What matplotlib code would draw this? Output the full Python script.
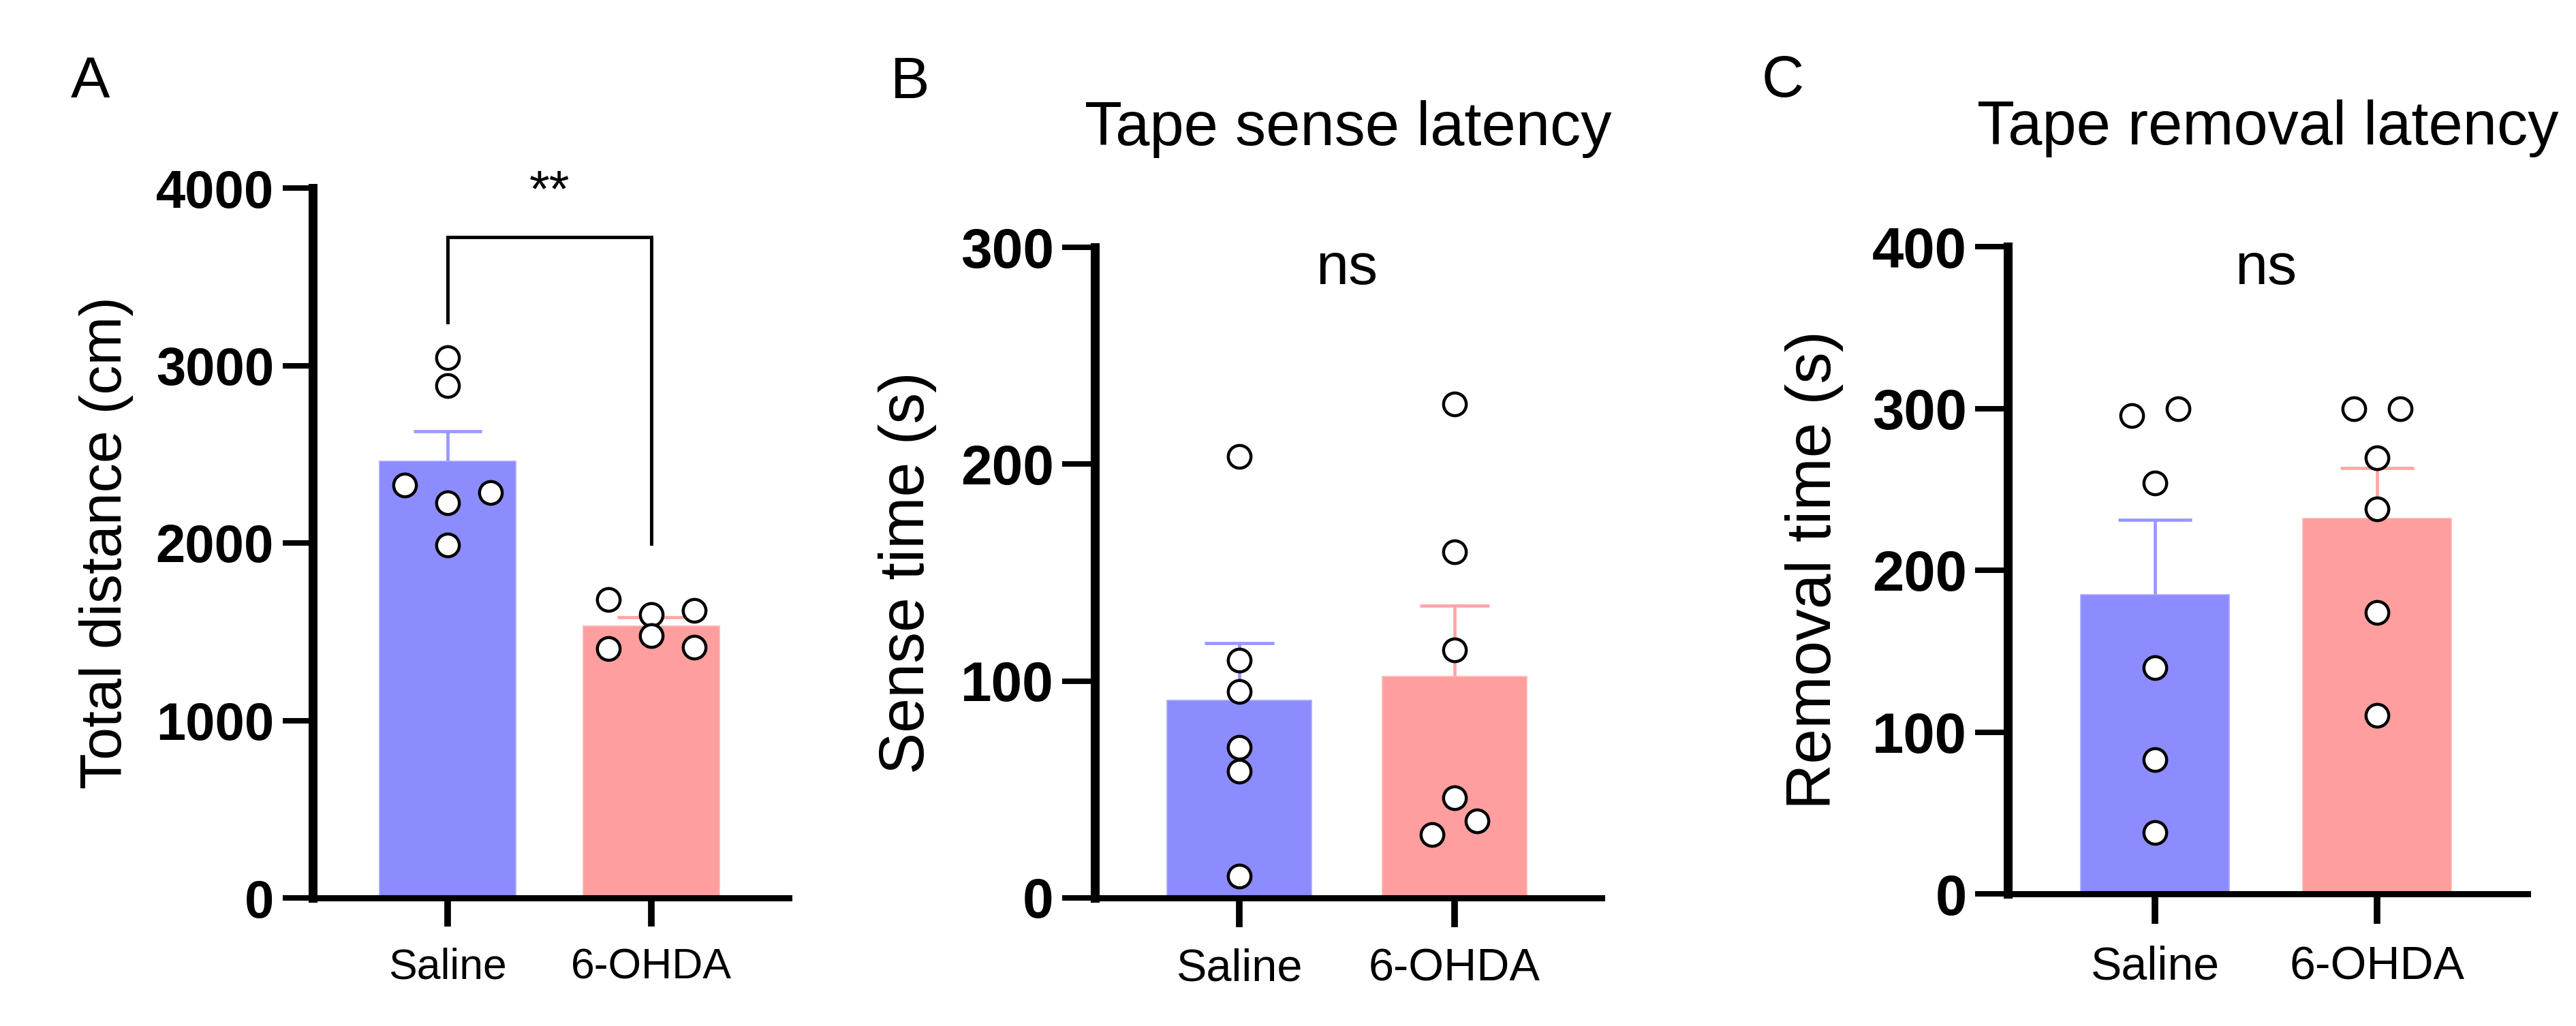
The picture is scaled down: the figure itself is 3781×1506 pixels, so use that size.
import matplotlib
matplotlib.use('Agg')
import matplotlib.pyplot as plt
import numpy as np

plt.rcParams['font.family'] = ['Liberation Sans', 'DejaVu Sans']

# ---------------- data ----------------
groups = ['Saline', '6-OHDA']

# Panel A: total distance (cm)
a_saline = [3044, 2887, 2326, 2284, 2227, 1989]
a_ohda = [1681, 1620, 1597, 1478, 1413, 1405]
a_yticks = [0, 1000, 2000, 3000, 4000]
a_ylabel = 'Total distance (cm)'
a_sig = '**'
a_bracket_y = [3244, 3724, 3724, 1996]

# Panel B: tape sense latency (s)
b_saline = [203.5, 109.5, 95.3, 69.5, 58.4, 10.0]
b_ohda = [227.7, 159.7, 114.3, 46.3, 35.4, 29.3]
b_yticks = [0, 100, 200, 300]
b_ylabel = 'Sense time (s)'
b_title = 'Tape sense latency'
b_sig = 'ns'

# Panel C: tape removal latency (s)
c_saline = [299.8, 295.6, 253.9, 139.8, 83.1, 37.7]
c_ohda = [300.0, 300.0, 269.5, 237.9, 174.0, 110.2]
c_yticks = [0, 100, 200, 300, 400]
c_ylabel = 'Removal time (s)'
c_title = 'Tape removal latency'
c_sig = 'ns'

# horizontal scatter offsets of individual points (layout)
a_saline_dx = [0, 0, -0.21, 0.21, 0, 0]
a_ohda_dx = [-0.21, 0.21, 0, 0, 0.21, -0.21]
b_saline_dx = [0, 0, 0, 0, 0, 0]
b_ohda_dx = [0, 0, 0, 0, 0.104, -0.104]
c_saline_dx = [0.104, -0.104, 0, 0, 0, 0]
c_ohda_dx = [-0.104, 0.104, 0, 0, 0, 0]

# ---------------- style ----------------
bar_colors = ['#8C8CFF', '#FF9E9E']
edge_colors = ['#A8A8FF', '#FFB4B4']
err_colors = ['#9898FF', '#FFA6A6']

W, H = 3781, 1506
fig = plt.figure(figsize=(W / 100, H / 100), dpi=100)


def rect(x0, x1, ytop, ybot):
    return [x0 / W, 1 - ybot / H, (x1 - x0) / W, (ybot - ytop) / H]


panels = [
    dict(rect=rect(459, 1158, 276, 1318), data=[a_saline, a_ohda],
         dx=[a_saline_dx, a_ohda_dx], yticks=a_yticks, ylabel=a_ylabel,
         xlim=(-0.662, 1.676), ylab_x=-0.402, ylab_fs=62, ytick_fs=56,
         xtick_fs=45, ticklen_y=32, ticklen_x=30, capsize=36, title=None,
         letter='A', letter_xy=(133, 143)),
    dict(rect=rect(1607, 2351, 363, 1318), data=[b_saline, b_ohda],
         dx=[b_saline_dx, b_ohda_dx], yticks=b_yticks, ylabel=b_ylabel,
         xlim=(-0.671, 1.684), ylab_x=-0.337, ylab_fs=66, ytick_fs=59,
         xtick_fs=48, ticklen_y=34.5, ticklen_x=31, capsize=37, title=b_title,
         letter='B', letter_xy=(1336, 144), sig=b_sig, sig_y=283),
    dict(rect=rect(2947, 3710, 362, 1312), data=[c_saline, c_ohda],
         dx=[c_saline_dx, c_ohda_dx], yticks=c_yticks, ylabel=c_ylabel,
         xlim=(-0.663, 1.678), ylab_x=-0.341, ylab_fs=67, ytick_fs=60,
         xtick_fs=49, ticklen_y=34.5, ticklen_x=32, capsize=39, title=c_title,
         letter='C', letter_xy=(2617, 142), sig=c_sig, sig_y=377),
]

xpos = np.arange(len(groups))

for i, p in enumerate(panels):
    ax = fig.add_axes(p['rect'])
    means = [np.mean(v) for v in p['data']]
    sems = [np.std(v, ddof=1) / np.sqrt(len(v)) for v in p['data']]

    # error bars (upper only) behind bars
    for j in range(len(groups)):
        eb = ax.errorbar([xpos[j]], [means[j]], yerr=[[0], [sems[j]]],
                         fmt='none', ecolor=err_colors[j], elinewidth=3.4,
                         capsize=p['capsize'], capthick=3.4, zorder=1)
        for cl in eb[1]:
            if np.allclose(cl.get_ydata(), means[j]):
                cl.set_visible(False)

    ax.bar(xpos, means, width=0.67, color=bar_colors,
           edgecolor=edge_colors, linewidth=1.2, zorder=2)

    for j in range(len(groups)):
        xs = xpos[j] + np.array(p['dx'][j])
        ax.plot(xs, p['data'][j], ls='none', marker='o', ms=24,
                mfc='white', mec='black', mew=3.2, zorder=3, clip_on=False)

    ax.set_xlim(*p['xlim'])
    ax.set_ylim(p['yticks'][0], p['yticks'][-1])
    ax.set_yticks(p['yticks'])
    ax.set_xticks(xpos)
    ax.set_xticklabels(groups)

    for s in ['top', 'right']:
        ax.spines[s].set_visible(False)
    ax.spines['left'].set_linewidth(9.4)
    ax.spines['bottom'].set_linewidth(6.5)

    ax.tick_params(axis='y', length=p['ticklen_y'], width=5.8, pad=9,
                   labelsize=p['ytick_fs'], colors='black')
    ax.tick_params(axis='x', length=p['ticklen_x'], width=7, pad=22,
                   labelsize=p['xtick_fs'], colors='black')
    for lab in ax.get_yticklabels():
        lab.set_fontweight('bold')

    ax.set_ylabel(p['ylabel'], fontsize=p['ylab_fs'], va='baseline')
    ax.yaxis.set_label_coords(p['ylab_x'], 0.5)

    if p['title']:
        ax.set_title(p['title'], fontsize=65, pad=108)

    if p.get('sig'):
        ax.text(0.5, p['sig_y'], p['sig'], ha='center', va='baseline',
                fontsize=62)

    lx, ly = p['letter_xy']
    fig.text(lx / W, 1 - ly / H, p['letter'], ha='center', va='baseline',
             fontsize=62)

    if i == 0:
        ax.plot([0, 0, 1, 1], a_bracket_y, color='black', lw=3.6,
                solid_joinstyle='miter', zorder=4, clip_on=False)
        ax.text(0.5, 3900, a_sig, ha='center', va='baseline', fontsize=55)

fig.savefig('out.png', dpi=100)
